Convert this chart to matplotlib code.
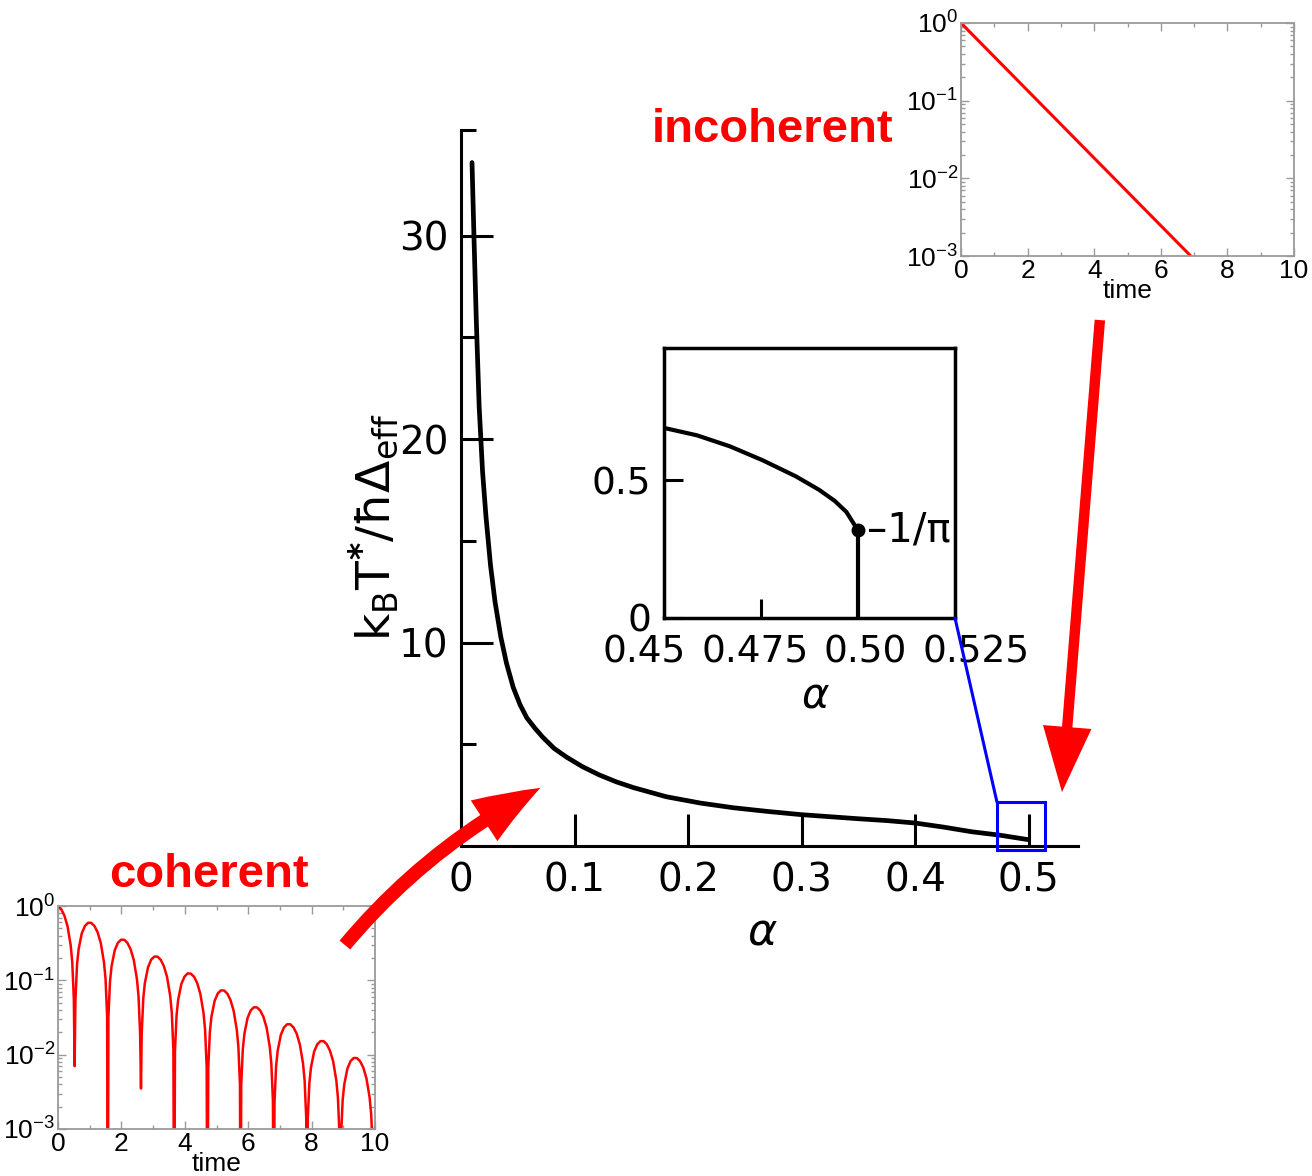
import numpy as np
import matplotlib
matplotlib.use("Agg")
import matplotlib.pyplot as plt
from matplotlib.patches import Rectangle, ConnectionPatch
from matplotlib.transforms import ScaledTranslation
from matplotlib.ticker import FixedLocator, LogLocator, MultipleLocator, NullFormatter, FuncFormatter

W, H, DPI = 1312, 1176, 100
RED = "#ff0000"
BLUE = "#0000ff"

# main panel: crossover temperature against coupling strength
alpha = [0.0097, 0.0115, 0.0135, 0.016, 0.019, 0.022, 0.026, 0.030, 0.035, 0.040,
         0.046, 0.052, 0.058, 0.065, 0.072, 0.082, 0.093, 0.107, 0.122, 0.137,
         0.152, 0.181, 0.211, 0.240, 0.270, 0.300, 0.350, 0.375, 0.400, 0.425,
         0.450, 0.475, 0.500]
t_star = [33.6, 29.8, 25.8, 21.6, 18.4, 16.2, 13.8, 12.0, 10.3, 9.0,
          7.8, 6.95, 6.3, 5.8, 5.35, 4.8, 4.37, 3.9, 3.49, 3.15,
          2.87, 2.42, 2.11, 1.88, 1.70, 1.54, 1.34, 1.25, 1.13, 0.93,
          0.70, 0.53, 0.31]
main_xticks = [0, 0.1, 0.2, 0.3, 0.4, 0.5]
main_xlabels = ["0", "0.1", "0.2", "0.3", "0.4", "0.5"]
main_yticks = [10, 20, 30]
main_yminor = [5, 15, 25, 35.2]

# close-up near alpha = 1/2
alpha_zoom = [0.45, 0.4585, 0.467, 0.4755, 0.484, 0.490, 0.494, 0.497, 0.50, 0.50]
t_zoom = [0.69, 0.663, 0.623, 0.572, 0.514, 0.465, 0.425, 0.385, 0.318, 0.0]
end_point = (0.50, 0.318)
zoom_xticks = [0.45, 0.475, 0.50, 0.525]
zoom_xlabels = ["0.45", "0.475", "0.50", "0.525"]
zoom_xlabel_shift = [-20, -6, 7, 21]   # px, spreads the crowded labels apart
zoom_yticks = [0, 0.5]
zoom_ylabels = ["0", "0.5"]
zoom_box = (0.4722, 0.5145, -0.2, 2.16)   # alpha range, value range

# coherent decay |P(t)|
coh_time = [
    0.00, 0.10, 0.20, 0.30, 0.40, 0.45, 0.50, 0.524,
    0.55, 0.60, 0.65, 0.75, 0.85, 0.95, 1.05, 1.15, 1.25, 1.35, 1.45, 1.50, 1.55, 1.571,
    1.59, 1.64, 1.69, 1.79, 1.89, 1.99, 2.09, 2.19, 2.29, 2.39, 2.49, 2.54, 2.59, 2.618,
    2.64, 2.69, 2.74, 2.84, 2.94, 3.04, 3.14, 3.24, 3.34, 3.44, 3.54, 3.59, 3.64, 3.665,
    3.69, 3.74, 3.79, 3.89, 3.99, 4.09, 4.19, 4.29, 4.39, 4.49, 4.59, 4.64, 4.69, 4.712,
    4.74, 4.79, 4.84, 4.94, 5.04, 5.14, 5.24, 5.34, 5.44, 5.54, 5.64, 5.69, 5.74, 5.760,
    5.78, 5.83, 5.88, 5.98, 6.08, 6.18, 6.28, 6.38, 6.48, 6.58, 6.68, 6.73, 6.78, 6.807,
    6.83, 6.88, 6.93, 7.03, 7.13, 7.23, 7.33, 7.43, 7.53, 7.63, 7.73, 7.78, 7.83, 7.854,
    7.88, 7.93, 7.98, 8.08, 8.18, 8.28, 8.38, 8.48, 8.58, 8.68, 8.78, 8.83, 8.88, 8.901,
    8.93, 8.98, 9.03, 9.13, 9.23, 9.33, 9.43, 9.53, 9.63, 9.73, 9.83, 9.88, 9.93, 9.948,
    10.0]
coh_value = [
    1.0, 0.908, 0.747, 0.535, 0.296, 0.175, 0.0551, 0.007,
    0.0538, 0.162, 0.262, 0.428, 0.540, 0.595, 0.592, 0.538, 0.443, 0.317, 0.175, 0.104, 0.0326, 1e-5,
    0.0319, 0.0962, 0.155, 0.254, 0.320, 0.352, 0.351, 0.319, 0.262, 0.188, 0.104, 0.0614, 0.0193, 0.0035,
    0.0189, 0.0570, 0.0919, 0.150, 0.190, 0.209, 0.208, 0.189, 0.155, 0.111, 0.0615, 0.0364, 0.0115, 1e-5,
    0.0112, 0.0338, 0.0545, 0.0891, 0.112, 0.124, 0.123, 0.112, 0.0920, 0.0659, 0.0365, 0.0216, 0.00679, 1e-5,
    0.00663, 0.0200, 0.0323, 0.0528, 0.0666, 0.0733, 0.0730, 0.0663, 0.0545, 0.0391, 0.0216, 0.0128, 0.00402, 1e-5,
    0.00392, 0.0118, 0.0191, 0.0312, 0.0394, 0.0434, 0.0432, 0.0392, 0.0323, 0.0231, 0.0128, 0.00756, 0.00238, 1e-5,
    0.00232, 0.00701, 0.0113, 0.0185, 0.0233, 0.0257, 0.0256, 0.0232, 0.0191, 0.0137, 0.00758, 0.00448, 0.00141, 1e-5,
    0.00138, 0.00416, 0.00671, 0.0110, 0.0138, 0.0152, 0.0152, 0.0138, 0.0113, 0.00812, 0.00449, 0.00265, 0.000836, 1e-5,
    0.000816, 0.00246, 0.00397, 0.00650, 0.00820, 0.00903, 0.00899, 0.00816, 0.00672, 0.00481, 0.00266, 0.00157, 0.000495, 1e-5,
    0.00104]

# incoherent decay
incoh_time = [0.0, 3.45, 6.9]
incoh_value = [1.0, 0.0316, 1.0e-3]


def px_axes(fig, left, top, right, bottom):
    # axes placed from a pixel box measured from the top-left corner
    return fig.add_axes([left / W, 1 - bottom / H, (right - left) / W, (bottom - top) / H])


def style_decay(a):
    a.set_yscale("log")
    a.set_xlim(0, 10)
    a.set_ylim(1e-3, 1)
    for sp in a.spines.values():
        sp.set_color("#9a9a9a")
        sp.set_linewidth(1.3)
    a.xaxis.set_major_locator(FixedLocator(range(0, 11, 2)))
    a.xaxis.set_minor_locator(MultipleLocator(1))
    a.yaxis.set_major_locator(FixedLocator([1e-3, 1e-2, 1e-1, 1]))
    a.yaxis.set_minor_locator(LogLocator(base=10, subs=range(2, 10)))
    a.yaxis.set_minor_formatter(NullFormatter())
    a.yaxis.set_major_formatter(
        FuncFormatter(lambda v, _: r"$\mathregular{10^{%d}}$" % round(np.log10(v))))
    a.tick_params(which="both", direction="in", top=True, right=True, color="#9a9a9a",
                  width=1.0, labelsize=19, labelfontfamily="Liberation Sans", pad=2)
    a.tick_params(which="major", length=6)
    a.tick_params(which="minor", length=3)
    a.set_xlabel("time", fontsize=19, fontfamily="Liberation Sans", labelpad=-3)


fig = plt.figure(figsize=(W / DPI, H / DPI), dpi=DPI)

# ---- main panel ----
ax = px_axes(fig, 461, 130, 1078, 846)
ax.set_facecolor("none")
ax.plot(alpha, t_star, color="black", lw=3.4, solid_capstyle="round")
ax.set_xlim(0, 0.5436)
ax.set_ylim(0, 35.2)
for s in ("top", "right"):
    ax.spines[s].set_visible(False)
for s in ("left", "bottom"):
    ax.spines[s].set_linewidth(2.2)
ax.set_xticks(main_xticks)
ax.set_xticklabels(main_xlabels)
ax.set_yticks(main_yticks)
ax.yaxis.set_minor_locator(FixedLocator(main_yminor))
ax.tick_params(which="major", direction="in", length=23, width=2.2, labelsize=28)
ax.tick_params(which="minor", direction="in", length=11, width=2.2)
ax.tick_params(axis="x", pad=11)
ax.tick_params(axis="y", pad=9)
ax.set_xlabel(r"$\alpha$", fontsize=32)
ax.xaxis.set_label_coords(0.489, -0.09)
fig.text(373 / W, 1 - 527 / H, r"$\mathrm{k_BT^{\mathbf{*}}/\hbar\Delta_{eff}}$",
         rotation=90, ha="center", va="center", fontsize=34)

ax.add_patch(Rectangle((zoom_box[0], zoom_box[2]), zoom_box[1] - zoom_box[0],
                       zoom_box[3] - zoom_box[2], fill=False, ec=BLUE, lw=2.2,
                       clip_on=False, zorder=5))

# ---- close-up ----
ax_in = px_axes(fig, 664, 348, 955, 618)
ax_in.plot(alpha_zoom, t_zoom, color="black", lw=3.0)
ax_in.plot(*end_point, "o", color="black", ms=9)
ax_in.set_xlim(0.45, 0.525)
ax_in.set_ylim(0, 0.98)
for sp in ax_in.spines.values():
    sp.set_linewidth(2.5)
ax_in.set_xticks(zoom_xticks)
ax_in.set_xticklabels(zoom_xlabels)
ax_in.set_yticks(zoom_yticks)
ax_in.set_yticklabels(zoom_ylabels)
ax_in.tick_params(direction="in", length=14, width=2.2, labelsize=27)
ax_in.tick_params(axis="x", pad=12)
ax_in.tick_params(axis="y", pad=9)
for lbl, dx in zip(ax_in.get_xticklabels(), zoom_xlabel_shift):
    lbl.set_transform(lbl.get_transform() + ScaledTranslation(dx / DPI, 0, fig.dpi_scale_trans))
ax_in.text(end_point[0] + 0.0022, end_point[1], "–1/π", fontsize=29, ha="left", va="center")
ax_in.set_xlabel(r"$\alpha$", fontsize=30)
ax_in.xaxis.set_label_coords(0.519, -0.21)

fig.add_artist(ConnectionPatch(xyA=(1, 0), coordsA=ax_in.transAxes,
                               xyB=(zoom_box[0], zoom_box[3]), coordsB=ax.transData,
                               color=BLUE, lw=2.2))

# ---- decay curves ----
ax_c = px_axes(fig, 58, 906, 375, 1129)
ax_c.plot(coh_time, coh_value, color=RED, lw=1.8)
style_decay(ax_c)

ax_i = px_axes(fig, 961, 23, 1294, 256)
ax_i.plot(incoh_time, incoh_value, color=RED, lw=2.2)
style_decay(ax_i)

fig.text(773 / W, 1 - 142 / H, "incoherent", color=RED, fontsize=34, fontweight="bold",
         fontfamily="Liberation Sans", ha="center", va="baseline")
fig.text(209 / W, 1 - 887 / H, "coherent", color=RED, fontsize=34, fontweight="bold",
         fontfamily="Liberation Sans", ha="center", va="baseline")

# arrows from each decay plot to its regime
fig.add_artist(ConnectionPatch(
    xyA=(0.905, 0.825), coordsA=ax_c.transAxes, xyB=(0.070, 2.86), coordsB=ax.transData,
    arrowstyle="simple,head_length=47,head_width=35,tail_width=10", mutation_scale=1,
    connectionstyle="arc3,rad=-0.1", color=RED, lw=0, shrinkA=0, shrinkB=0))
fig.add_artist(ConnectionPatch(
    xyA=(0.417, -0.275), coordsA=ax_i.transAxes, xyB=(0.5295, 2.65), coordsB=ax.transData,
    arrowstyle="simple,head_length=47,head_width=35,tail_width=7.5", mutation_scale=1,
    connectionstyle="arc3,rad=0.0", color=RED, lw=0, shrinkA=0, shrinkB=0))

fig.savefig("out.png", dpi=DPI)
